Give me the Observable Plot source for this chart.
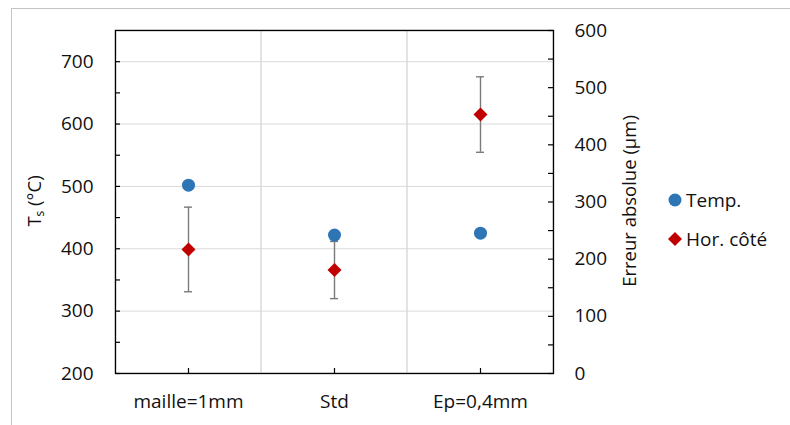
<!DOCTYPE html>
<html>
<head>
<meta charset="utf-8">
<script src="https://cdn.jsdelivr.net/npm/d3@7"></script>
<script src="https://cdn.jsdelivr.net/npm/@observablehq/plot@0.6"></script>
<style>
  html, body { margin: 0; padding: 0; background: #fff; }
  #wrap { position: relative; width: 790px; height: 425px; overflow: hidden; font-family: "Open Sans", sans-serif; color: #111; }
  #border { position: absolute; left: 11px; top: 8px; width: 800px; height: 440px; border: 1px solid #c4c4c4; box-sizing: border-box; }
  #chart { position: absolute; left: 0; top: 0; }
  .ytitle { position: absolute; transform: translate(-50%, -50%) rotate(-90deg); white-space: nowrap; font-size: 18.5px; }
  .ytitle sub { font-size: 12px; vertical-align: -3px; }
  .leg { position: absolute; font-size: 19px; white-space: nowrap; transform: translateY(-50%); }
  .legsym { position: absolute; }
</style>
</head>
<body>
<div id="wrap">
  <div id="border"></div>
  <div id="chart"></div>
  <div class="ytitle" style="left:34px; top:201px;">T<sub>s</sub> (°C)</div>
  <div class="ytitle" style="left:628px; top:201px;">Erreur absolue (µm)</div>
  <svg class="legsym" style="left:666px; top:191px;" width="18" height="18"><circle cx="9" cy="9" r="6.5" fill="#2E75B6"/></svg>
  <div class="leg" style="left:686px; top:200px;">Temp.</div>
  <svg class="legsym" style="left:667px; top:231px;" width="16" height="16"><path d="M8,1 L15,8 L8,15 L1,8 Z" fill="#C00000"/></svg>
  <div class="leg" style="left:686px; top:239px;">Hor. côté</div>
</div>
<script>
const categories = ["maille=1mm", "Std", "Ep=0,4mm"];
const temp = [502, 422, 425];
const horCote = [217, 181, 453];
const horCoteErr = [74, 50, 66];
const leftTicks = [200, 300, 400, 500, 600, 700];
const leftMinor = [250, 350, 450, 550, 650];
const rightTicks = [0, 100, 200, 300, 400, 500, 600];
const rightMinor = [50, 150, 250, 350, 450, 550];
const leftDomain = [200, 750];
const rightDomain = [0, 600];

// map right-axis values onto the left scale
const toLeft = v => leftDomain[0] + (v - rightDomain[0]) * (leftDomain[1] - leftDomain[0]) / (rightDomain[1] - rightDomain[0]);
const toRight = v => rightDomain[0] + (v - leftDomain[0]) * (rightDomain[1] - rightDomain[0]) / (leftDomain[1] - leftDomain[0]);

const tempData = categories.map((c, i) => ({cat: c, v: temp[i]}));
const horData = categories.map((c, i) => ({
  cat: c,
  v: toLeft(horCote[i]),
  lo: toLeft(horCote[i] - horCoteErr[i]),
  hi: toLeft(horCote[i] + horCoteErr[i])
}));

const grid = "#d9d9d9";
const chart = Plot.plot({
  width: 790,
  height: 425,
  marginLeft: 115,
  marginRight: 237,
  marginTop: 30,
  marginBottom: 52,
  style: {fontFamily: "'Open Sans', sans-serif", fontSize: "19px", color: "#111", background: "transparent", overflow: "visible"},
  x: {domain: categories, type: "band", padding: 0, axis: null},
  y: {domain: leftDomain, axis: null},
  marks: [
    Plot.barY(categories, {x: d => d, y1: leftDomain[0], y2: leftDomain[1], fill: "none", stroke: grid, strokeWidth: 1}),
    Plot.ruleY(leftTicks.slice(1), {stroke: grid, strokeWidth: 1}),
    Plot.frame({stroke: "#000", strokeWidth: 1.3}),
    Plot.axisY(leftTicks, {anchor: "left", tickSize: 0, tickPadding: 22, label: null, fontSize: 19}),
    Plot.axisY([...leftTicks, ...leftMinor], {anchor: "left", tickSize: 5, dx: 5, tickFormat: () => "", label: null, stroke: "#000", strokeWidth: 1.2}),
    Plot.axisY(rightTicks.map(toLeft), {anchor: "right", tickSize: 0, tickPadding: 21, tickFormat: d => String(Math.round(toRight(d))), label: null, fontSize: 19}),
    Plot.axisY([...rightTicks, ...rightMinor].map(toLeft), {anchor: "right", tickSize: 6, dx: -6, tickFormat: () => "", label: null, stroke: "#000", strokeWidth: 1.2}),
    Plot.axisX({anchor: "bottom", tickSize: 0, tickPadding: 21, label: null, fontSize: 19}),
    Plot.axisX({anchor: "bottom", tickSize: 5, dy: -5, tickFormat: () => "", label: null, stroke: "#000", strokeWidth: 1.2}),
    Plot.ruleX(horData, {x: "cat", y1: "lo", y2: "hi", stroke: "#7a7a7a", strokeWidth: 1.4}),
    Plot.tickY(horData, {x: "cat", y: "lo", insetLeft: 69, insetRight: 69, stroke: "#7a7a7a", strokeWidth: 1.4}),
    Plot.tickY(horData, {x: "cat", y: "hi", insetLeft: 69, insetRight: 69, stroke: "#7a7a7a", strokeWidth: 1.4}),
    Plot.dot(horData, {x: "cat", y: "v", symbol: "diamond2", r: 6.3, fill: "#C00000", stroke: "none"}),
    Plot.dot(tempData, {x: "cat", y: "v", symbol: "circle", r: 6.5, fill: "#2E75B6", stroke: "none"})
  ]
});
document.getElementById("chart").appendChild(chart);
</script>
</body>
</html>
